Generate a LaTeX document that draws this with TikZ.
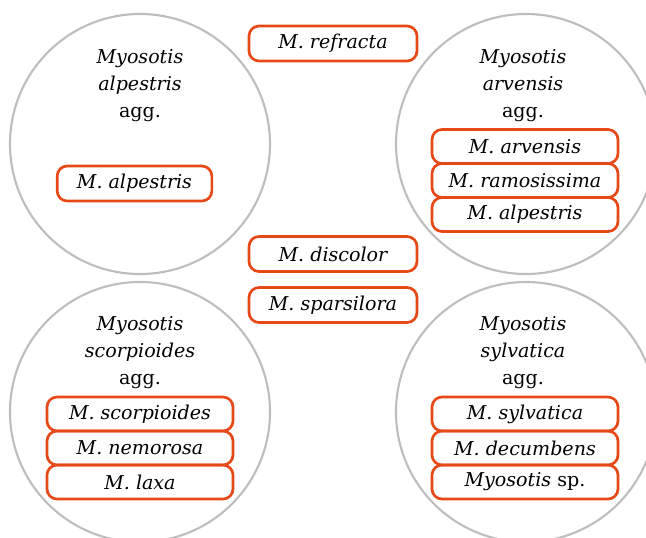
\documentclass[tikz,border=0pt]{standalone}
\usepackage{fontspec}
\setmainfont{DejaVu Serif}
\definecolor{aggline}{RGB}{190,190,190}
\definecolor{taxonline}{RGB}{230,72,22}
\tikzset{
	agg/.style={draw=aggline, line width=1.6pt},
	aggname/.style={align=center, font=\fontsize{14.3}{20.25}\selectfont, inner sep=0pt},
	taxon/.style={draw=taxonline, line width=2pt, rounded corners=7.5pt, minimum height=25.5pt, minimum width=139.5pt, inner sep=0pt, font=\fontsize{14.3}{16}\selectfont\itshape},
	loose/.style={taxon, minimum width=126pt, minimum height=26.25pt}
}
\begin{document}
\begin{tikzpicture}[x=0.75pt, y=-0.75pt]
			\useasboundingbox (0, 0) rectangle (646, 537);
			\clip (0, 0) rectangle (646, 537);
			% the four aggregates
			\foreach \x in {(140, 144), (526, 144), (140, 412), (526, 412)}
				\draw[agg] \x circle (97.5pt);
			\node[aggname] (alpestrisagg) at (140, 86) {{\itshape Myosotis}\\{\itshape alpestris}\\agg.};
			\node[aggname] (arvensisagg) at (523, 86) {{\itshape Myosotis}\\{\itshape arvensis}\\agg.};
			\node[aggname] (scorpioidesagg) at (140, 353) {{\itshape Myosotis}\\{\itshape scorpioides}\\agg.};
			\node[aggname] (sylvaticaagg) at (523, 353) {{\itshape Myosotis}\\{\itshape sylvatica}\\agg.};
			% taxa outside the aggregates
			\foreach \n/\t/\y in {refracta/M. refracta/43.5, discolor/M. discolor/254, sparsilora/M. sparsilora/305}
				\node[loose] (\n) at (333, \y) {\t};
			\node[loose, minimum width=116pt] (alpestrisA) at (134.5, 183.5) {M. alpestris};
			% stacked taxa
			\foreach \n/\t/\y in {arvensis/M. arvensis/146.5, ramosissima/M. ramosissima/180.5, alpestrisB/M. alpestris/214.5}
				\node[taxon] (\n) at (525, \y) {\t};
			\foreach \n/\t/\y in {scorpioides/M. scorpioides/414, nemorosa/M. nemorosa/448, laxa/M. laxa/482}
				\node[taxon] (\n) at (140, \y) {\t};
			\foreach \n/\t/\y in {sylvatica/M. sylvatica/414, decumbens/M. decumbens/448, sp/{Myosotis \upshape sp.}/482}
				\node[taxon] (\n) at (525, \y) {\t};
		\end{tikzpicture}
\end{document}
